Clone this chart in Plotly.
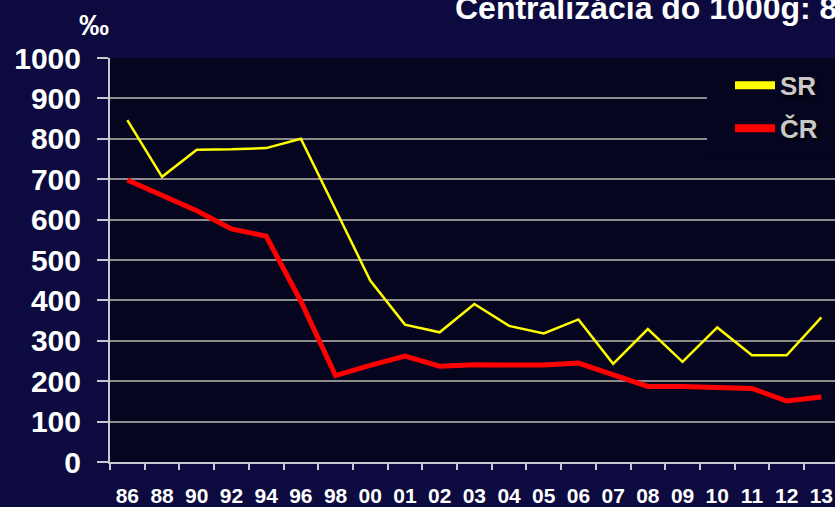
import plotly.graph_objects as go

years = ["86", "88", "90", "92", "94", "96", "98", "00", "01", "02", "03", "04",
         "05", "06", "07", "08", "09", "10", "11", "12", "13"]
sr = [846, 706, 773, 774, 777, 800, 625, 449, 340, 321, 391, 337,
      318, 353, 243, 329, 248, 333, 264, 264, 358]
cr = [698, 661, 622, 577, 559, 398, 214, 239, 262, 237, 241, 240,
      240, 245, 215, 187, 187, 184, 182, 151, 161]
y_ticks = [0, 100, 200, 300, 400, 500, 600, 700, 800, 900, 1000]

W, H = 835, 507
L, R, T, B = 110, 0, 58, 40
pw = W - L - R
ph = H - T - B

def px_x(p):
    return (p - L) / pw

def px_y(p):
    return 1 - (p - T) / ph

fig = go.Figure()
fig.add_trace(go.Scatter(x=years, y=sr, mode="lines", line=dict(color="#ffff00", width=2.5),
                         showlegend=False, hoverinfo="skip"))
fig.add_trace(go.Scatter(x=years, y=cr, mode="lines", line=dict(color="#ff0000", width=5),
                         showlegend=False, hoverinfo="skip"))
fig.add_trace(go.Scatter(x=[None], y=[None], mode="lines", name="SR", legendgroup="a",
                         line=dict(color="#ffff00", width=8)))
fig.add_trace(go.Scatter(x=[None], y=[None], mode="lines", name="ČR", legendgroup="b",
                         line=dict(color="#ff0000", width=8)))

cat_px = 34.7
n_vis = pw / cat_px

fig.update_layout(
    width=W, height=H,
    margin=dict(l=L, r=R, t=T, b=B, pad=0),
    paper_bgcolor="#0c0a3e",
    plot_bgcolor="#06051f",
    font=dict(family="Liberation Sans, Arial, sans-serif", color="white"),
    xaxis=dict(
        type="category", range=[-0.5, n_vis - 0.5],
        showgrid=False, zeroline=False,
        showline=True, linecolor="#c8c8d0", linewidth=2,
        ticks="outside", ticklen=6, tickwidth=2, tickcolor="#c8c8d0",
        tickson="boundaries",
        tickfont=dict(size=21, color="white", weight="bold"),
        ticklabelstandoff=14,
    ),
    yaxis=dict(
        range=[0, 1000], tickvals=y_ticks,
        showgrid=True, gridcolor="#8c8c8c", gridwidth=1.5,
        zeroline=False,
        showline=True, linecolor="#c8c8d0", linewidth=2,
        ticks="outside", ticklen=11, tickwidth=2, tickcolor="#c8c8d0",
        tickfont=dict(size=30, color="white", weight="bold"),
        ticklabelstandoff=10,
    ),
    legend=dict(
        x=px_x(730), y=px_y(62), xanchor="left", yanchor="top",
        bgcolor="#06051f", borderwidth=0,
        font=dict(size=26, color="#c8c8c8", weight="bold",
                  shadow="2px 2px 2px #000000"),
        tracegroupgap=6, itemwidth=40,
    ),
    shapes=[
        dict(type="rect", xref="paper", yref="paper",
             x0=px_x(707), x1=1, y0=px_y(160), y1=px_y(62),
             fillcolor="#06051f", line=dict(width=0), layer="above"),
    ],
    annotations=[
        dict(text="Centralizácia do 1000g: 8", xref="paper", yref="paper",
             x=px_x(453), y=px_y(28), xanchor="left", yanchor="bottom",
             showarrow=False, font=dict(size=32, color="white", weight="bold")),
        dict(text="‰", xref="paper", yref="paper",
             x=px_x(94), y=px_y(24), xanchor="center", yanchor="middle",
             showarrow=False, font=dict(size=30, color="white", weight="bold")),
    ],
)

fig.write_html("out.html", config={"displayModeBar": False},
               post_script="document.body.style.margin='0';document.body.style.padding='0';")
